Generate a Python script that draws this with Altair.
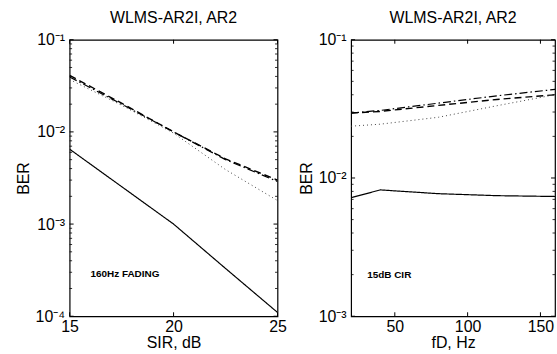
import altair as alt
import pandas as pd
import math

# ---------------- data ----------------
sir = [15, 17.5, 20, 22.5, 25]
sir_solid = [6.5e-3, 2.55e-3, 1.0e-3, 3.3e-4, 1.1e-4]
sir_dash = [4.1e-2, 2.05e-2, 1.0e-2, 5.1e-3, 3.0e-3]
sir_dashdot = [3.95e-2, 2.0e-2, 1.0e-2, 5.0e-3, 2.9e-3]
sir_dot = [3.7e-2, 1.95e-2, 9.7e-3, 3.9e-3, 1.8e-3]

fd = [20, 40, 80, 120, 160]
fd_solid = [7.2e-3, 8.2e-3, 7.7e-3, 7.45e-3, 7.35e-3]
fd_dash = [2.95e-2, 3.03e-2, 3.35e-2, 3.7e-2, 4.0e-2]
fd_dashdot = [2.95e-2, 3.08e-2, 3.48e-2, 3.93e-2, 4.37e-2]
fd_dot = [2.37e-2, 2.45e-2, 2.75e-2, 3.33e-2, 4.0e-2]

left_xticks = [15, 20, 25]
right_xticks = [50, 100, 150]
left_yticks = [1e-4, 1e-3, 1e-2, 1e-1]
left_ylabels = ["10⁻⁴", "10⁻³", "10⁻²", "10⁻¹"]
right_yticks = [1e-3, 1e-2, 1e-1]
right_ylabels = ["10⁻³", "10⁻²", "10⁻¹"]
minor_mult = [2, 3, 4, 5, 6, 7, 8, 9]

title_text = "WLMS-AR2I, AR2"
left_note = "160Hz FADING"
left_note_pos = (16.0, 2.9e-4)
right_note = "15dB CIR"
right_note_pos = (31, 2.0e-3)

FONT = "Liberation Sans"
FS = 16

styles = {
    "solid": dict(strokeDash=[1, 0], color="black", strokeWidth=1.2),
    "dashed": dict(strokeDash=[7, 4], color="black", strokeWidth=1.4),
    "dashdot": dict(strokeDash=[8, 3, 1.5, 3], color="black", strokeWidth=1.2),
    "dotted": dict(strokeDash=[1, 3], color="#444444", strokeWidth=1.0),
}


def label_expr(vals, labels):
    expr = "''"
    for v, l in zip(vals, labels):
        expr = f"abs(log(datum.value)/log(10) - ({math.log10(v)})) < 0.01 ? '{l}' : " + expr
    return expr


def panel(xv, series, xdom, xticks, ydom, yticks, ylabels, xtitle, note, note_pos, W, H):
    xs = alt.Scale(domain=xdom, nice=False, zero=False)
    ys = alt.Scale(type="log", domain=ydom, nice=False)
    xax = alt.Axis(values=xticks, title=xtitle, ticks=False, domain=False,
                   grid=False, labelPadding=2, titlePadding=0, labelFlush=False)
    yax = alt.Axis(values=yticks, title="BER", ticks=False, domain=False,
                   grid=False, labelPadding=5, titlePadding=4,
                   labelExpr=label_expr(yticks, ylabels))
    X = lambda: alt.X("x:Q", scale=xs, axis=xax, title=xtitle)
    Y = lambda: alt.Y("y:Q", scale=ys, axis=yax, title="BER")
    layers = []
    for name, vals in series:
        df = pd.DataFrame({"x": xv, "y": vals})
        st = styles[name]
        layers.append(alt.Chart(df).mark_line(clip=True, **st).encode(x=X(), y=Y()))

    # inward ticks
    xt = pd.DataFrame({"x": xticks})
    layers.append(alt.Chart(xt).mark_rule(color="black", strokeWidth=1).encode(
        x=X(), y=alt.value(H), y2=alt.value(H - 4)))
    layers.append(alt.Chart(xt).mark_rule(color="black", strokeWidth=1).encode(
        x=X(), y=alt.value(0), y2=alt.value(4)))
    yt = pd.DataFrame({"y": yticks})
    minor = [m * t for t in yticks[:-1] for m in minor_mult]
    ym = pd.DataFrame({"y": minor})
    layers.append(alt.Chart(yt).mark_rule(color="black", strokeWidth=1).encode(
        y=Y(), x=alt.value(0), x2=alt.value(4)))
    layers.append(alt.Chart(yt).mark_rule(color="black", strokeWidth=1).encode(
        y=Y(), x=alt.value(W), x2=alt.value(W - 4)))
    layers.append(alt.Chart(ym).mark_rule(color="black", strokeWidth=0.8).encode(
        y=Y(), x=alt.value(0), x2=alt.value(2.5)))
    layers.append(alt.Chart(ym).mark_rule(color="black", strokeWidth=0.8).encode(
        y=Y(), x=alt.value(W), x2=alt.value(W - 2.5)))

    nd = pd.DataFrame({"x": [note_pos[0]], "y": [note_pos[1]], "t": [note]})
    layers.append(alt.Chart(nd).mark_text(align="left", baseline="middle", fontSize=10,
                                          fontWeight="bold", font=FONT, color="black").encode(
        x=X(), y=Y(), text="t:N"))

    return alt.layer(*layers).properties(
        width=W, height=H,
        title=alt.TitleParams(title_text, fontSize=FS, fontWeight="normal", font=FONT,
                              color="black", offset=6, anchor="middle"))


left = panel(sir, [("solid", sir_solid), ("dashed", sir_dash), ("dashdot", sir_dashdot), ("dotted", sir_dot)],
             [15, 25], left_xticks, [1e-4, 1e-1], left_yticks, left_ylabels, "SIR, dB",
             left_note, left_note_pos, 209, 278)
right = panel(fd, [("solid", fd_solid), ("dashed", fd_dash), ("dashdot", fd_dashdot), ("dotted", fd_dot)],
              [20, 160], right_xticks, [1e-3, 1e-1], right_yticks, right_ylabels, "fD, Hz",
              right_note, right_note_pos, 205, 278)

chart = alt.hconcat(left, right, spacing=10).properties(
    padding={"left": 14, "top": 8, "right": 0, "bottom": 0},
    background="white",
).configure_view(stroke="black", strokeWidth=1.2).configure_axis(
    labelFont=FONT, labelFontSize=FS, labelColor="black",
    titleFont=FONT, titleFontSize=FS, titleFontWeight="normal", titleColor="black",
)

chart.save("out.html", embed_options={"renderer": "svg", "actions": False})
